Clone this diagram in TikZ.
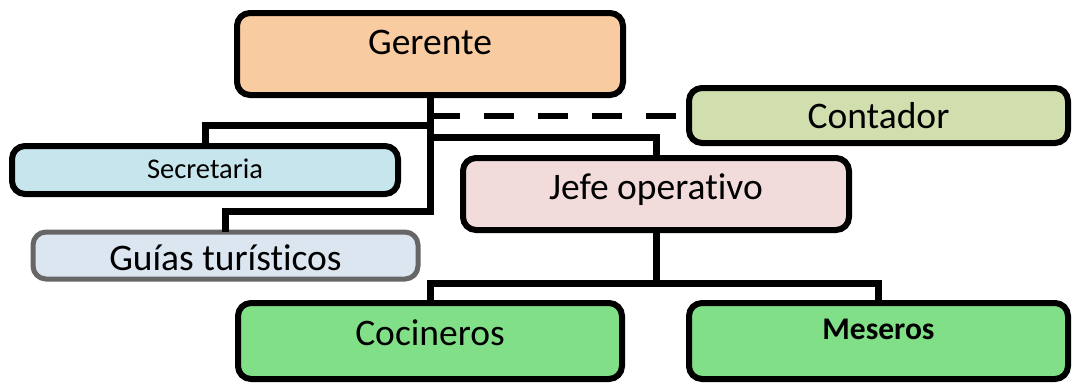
\documentclass[tikz,border=0pt]{standalone}
\usepackage{fontspec}
\setmainfont{Carlito}[Ligatures=NoCommon]
\definecolor{cGer}{HTML}{F9CBA1}
\definecolor{cCon}{HTML}{D1DFAF}
\definecolor{cSec}{HTML}{C7E5EC}
\definecolor{cJef}{HTML}{F2DCDB}
\definecolor{cGui}{HTML}{DCE6F1}
\definecolor{cGrn}{HTML}{80DF87}
\definecolor{cGry}{HTML}{666666}
\begin{document}
\begin{tikzpicture}[x=1pt,y=-1pt,
  box/.style={draw=black,line width=6pt,rounded corners=13pt,inner sep=0pt,outer sep=0pt},
  conn/.style={draw=black,line width=7pt},
  dashconn/.style={draw=black,line width=6pt,dash pattern=on 30pt off 24pt},
  lbl/.style={anchor=base,inner sep=0pt,font=\fontsize{37.5}{42}\selectfont}]
\useasboundingbox (0,0) rectangle (1072,383);
\node[box,fill=cGer,minimum width=386pt,minimum height=82pt] (ger) at (430,54) {};
\node[box,fill=cCon,minimum width=379pt,minimum height=55pt] (con) at (878.5,115.5) {};
\node[box,fill=cSec,minimum width=386pt,minimum height=48pt] (sec) at (205,170) {};
\node[box,fill=cJef,minimum width=386pt,minimum height=72pt] (jef) at (656,194) {};
\node[box,draw=cGry,line width=5pt,fill=cGui,minimum width=385pt,minimum height=47pt] (gui) at (225.5,255.5) {};
\node[box,fill=cGrn,minimum width=384pt,minimum height=76pt] (coc) at (430,341) {};
\node[box,fill=cGrn,minimum width=379pt,minimum height=76pt] (mes) at (878.5,341) {};
\draw[conn] (ger.south) -- ++(0,116) -| (gui.north);
\draw[conn] (ger.south) -- ++(0,30) -| (sec.north);
\draw[conn] (ger.south) -- ++(0,42) -| (jef.north);
\draw[dashconn] (ger.south |- con.west) -- (con.west);
\draw[conn] (jef.south) -- ++(0,53) -| (coc.north);
\draw[conn] (jef.south) ++(0,53) -| (mes.north);
% labels
\node[lbl] (tger) at (430,54) {Gerente};
\node[lbl] (tcon) at (878.5,128) {Contador};
\node[lbl,font=\fontsize{28.5}{32}\selectfont] (tsec) at (205,178) {Secretaria};
\node[lbl] (tjef) at (656,199) {Jefe operativo};
\node[lbl] (tgui) at (225.5,270) {Guías turísticos};
\node[lbl] (tcoc) at (430,345) {Cocineros};
\node[lbl,font=\fontsize{31.5}{35}\selectfont\bfseries] (tmes) at (878.5,339) {Meseros};
\end{tikzpicture}
\end{document}
